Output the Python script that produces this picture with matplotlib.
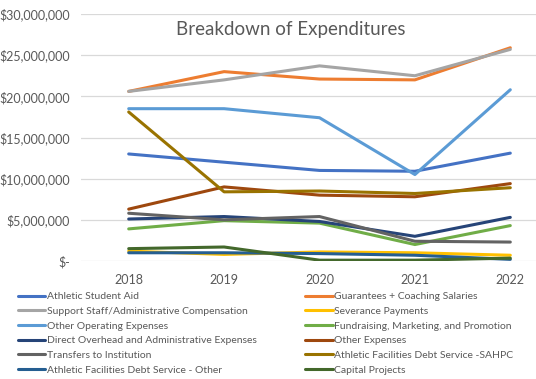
import matplotlib.pyplot as plt
from matplotlib.ticker import FuncFormatter

years = ['2018', '2019', '2020', '2021', '2022']

series_names = [
    'Athletic Student Aid',
    'Guarantees + Coaching Salaries',
    'Support Staff/Administrative Compensation',
    'Severance Payments',
    'Other Operating Expenses',
    'Fundraising, Marketing, and Promotion',
    'Direct Overhead and Administrative Expenses',
    'Other Expenses',
    'Transfers to Institution',
    'Athletic Facilities Debt Service -SAHPC',
    'Athletic Facilities Debt Service - Other',
    'Capital Projects',
]

# values in dollars
student_aid = [13.0e6, 12.0e6, 11.0e6, 10.9e6, 13.1e6]
coaching = [20.6e6, 23.0e6, 22.1e6, 22.0e6, 25.9e6]
support_staff = [20.6e6, 22.0e6, 23.7e6, 22.5e6, 25.7e6]
severance = [1.2e6, 0.8e6, 1.1e6, 1.0e6, 0.7e6]
other_operating = [18.5e6, 18.5e6, 17.4e6, 10.5e6, 20.8e6]
fundraising = [3.9e6, 4.9e6, 4.6e6, 2.0e6, 4.3e6]
direct_overhead = [5.1e6, 5.4e6, 4.8e6, 3.0e6, 5.3e6]
other_expenses = [6.3e6, 9.0e6, 8.0e6, 7.8e6, 9.4e6]
transfers = [5.8e6, 5.0e6, 5.4e6, 2.4e6, 2.3e6]
debt_sahpc = [18.1e6, 8.4e6, 8.5e6, 8.2e6, 8.9e6]
debt_other = [1.0e6, 1.0e6, 0.9e6, 0.7e6, 0.2e6]
capital = [1.5e6, 1.7e6, 0.1e6, 0.1e6, 0.35e6]

all_values = [student_aid, coaching, support_staff, severance, other_operating,
              fundraising, direct_overhead, other_expenses, transfers,
              debt_sahpc, debt_other, capital]

colors = ['#4472C4', '#ED7D31', '#A5A5A5', '#FFC000', '#5B9BD5', '#70AD47',
          '#264478', '#9E480E', '#636363', '#997300', '#255E91', '#43682B']

plt.rcParams['font.family'] = ['Lato', 'DejaVu Sans']
text_color = '#595959'

fig = plt.figure(figsize=(5.36, 3.79), dpi=100)
ax = fig.add_axes([81 / 536, (379 - 261) / 379, 477 / 536, 247 / 379])

x = list(range(len(years)))
handles = []
for name, vals, c in zip(series_names, all_values, colors):
    h, = ax.plot(x, vals, color=c, linewidth=2.2, label=name, solid_capstyle='round')
    handles.append(h)

ax.set_xlim(-0.5, 4.5)
ax.set_ylim(0, 30e6)
ax.set_yticks([0, 5e6, 10e6, 15e6, 20e6, 25e6, 30e6])
ax.yaxis.set_major_formatter(FuncFormatter(lambda v, p: '$-' if v == 0 else f'${v:,.0f}'))
ax.set_xticks(x)
ax.set_xticklabels(years)
ax.grid(axis='y', color='#D9D9D9', linewidth=0.9)
ax.set_axisbelow(True)
for s in ax.spines.values():
    s.set_visible(False)
ax.tick_params(length=0, labelsize=9, colors=text_color, pad=8)
ax.tick_params(axis='x', pad=9)

fig.text(291 / 536, 1 - 30 / 379, 'Breakdown of Expenditures', ha='center', va='center',
         fontsize=13.5, color=text_color)

order = [0, 2, 4, 6, 8, 10, 1, 3, 5, 7, 9, 11]
leg = fig.legend([handles[i] for i in order], [series_names[i] for i in order],
                 ncol=2, loc='upper left', bbox_to_anchor=(18 / 536, 1 - 292 / 379),
                 frameon=False, fontsize=7.5, handlelength=2.6, handletextpad=0.15,
                 labelspacing=0.52, columnspacing=4.7, borderaxespad=0, borderpad=0)
for t in leg.get_texts():
    t.set_color(text_color)

fig.savefig('out.png', dpi=100)
